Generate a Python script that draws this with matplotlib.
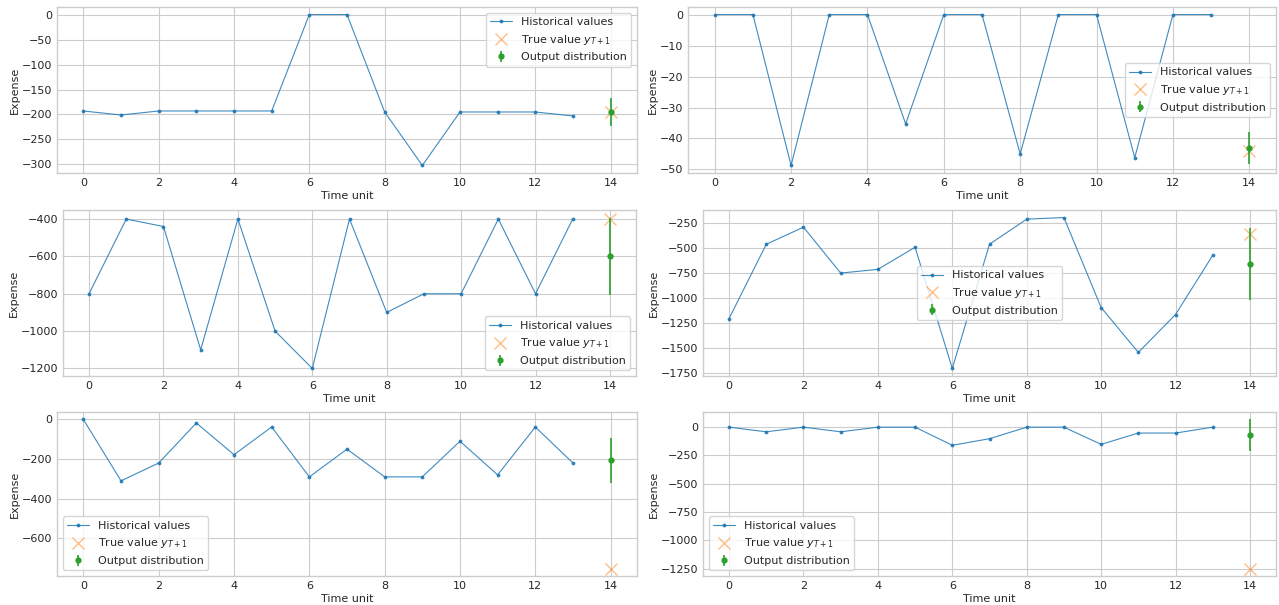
import numpy as np
import matplotlib
matplotlib.use("Agg")
import matplotlib.pyplot as plt

plt.style.use("seaborn-v0_8-whitegrid")
plt.rcParams.update({
    "font.family": ["DejaVu Sans"],
    "font.size": 8,
    "axes.labelsize": 8,
    "xtick.labelsize": 8,
    "ytick.labelsize": 8,
    "legend.fontsize": 8,
    "legend.frameon": True,
    "legend.framealpha": 0.8,
    "legend.edgecolor": "0.8",
})

time_steps = list(range(14))
forecast_step = 14

hist_1 = [-193, -201, -193, -193, -193, -193, 0, 0, -195, -302, -195, -195, -195, -203]
true_1 = -196
mean_1 = -196
err_1 = 28

hist_2 = [0, 0, -48.7, 0, 0, -35.3, 0, 0, -45, 0, 0, -46.2, 0, 0]
true_2 = -44
mean_2 = -43
err_2 = 5.2

hist_3 = [-800, -400, -440, -1100, -400, -1000, -1200, -400, -900, -800, -800, -400, -800, -400]
true_3 = -400
mean_3 = -600
err_3 = 208

hist_4 = [-1203, -463, -293, -750, -713, -493, -1700, -463, -213, -197, -1093, -1540, -1163, -573]
true_4 = -360
mean_4 = -657
err_4 = 357

hist_5 = [0, -310, -220, -18, -178, -38, -290, -150, -290, -290, -110, -280, -38, -220]
true_5 = -753
mean_5 = -207
err_5 = 113

hist_6 = [0, -41, 0, -41, 0, 0, -160, -102, 0, 0, -152, -52, -52, 0]
true_6 = -1248
mean_6 = -70
err_6 = 138

panels = [
    (hist_1, true_1, mean_1, err_1, "upper right"),
    (hist_2, true_2, mean_2, err_2, "center right"),
    (hist_3, true_3, mean_3, err_3, "lower right"),
    (hist_4, true_4, mean_4, err_4, "center"),
    (hist_5, true_5, mean_5, err_5, "lower left"),
    (hist_6, true_6, mean_6, err_6, "lower left"),
]

W, H = 1279, 605
# pixel boxes (left, top, right, bottom) for each panel
boxes = [
    (57, 7, 637, 173), (688, 7, 1276, 173),
    (63, 210, 636, 376), (703, 210, 1276, 376),
    (57, 412, 637, 576), (703, 412, 1276, 576),
]

fig = plt.figure(figsize=(W / 100, H / 100), dpi=100)
for box, (hist, tv, mu, er, loc) in zip(boxes, panels):
    l, t, r, b = box
    ax = fig.add_axes([l / W, 1 - b / H, (r - l) / W, (b - t) / H])
    ax.plot(time_steps, hist, "-", marker=".", color="C0", linewidth=0.8,
            markersize=3.5, alpha=0.85, label="Historical values")
    ax.plot([forecast_step], [tv], "x", color="C1", markersize=9, alpha=0.5,
            markeredgewidth=1.0, label="True value $y_{T+1}$")
    ax.errorbar([forecast_step], [mu], yerr=[er], fmt="o", color="C2",
                markersize=3.5, elinewidth=1.2, label="Output distribution")
    ax.set_xlabel("Time unit", labelpad=2)
    ax.set_ylabel("Expense", labelpad=1.5)
    ax.set_xticks(range(0, 15, 2))
    ax.legend(loc=loc)

fig.savefig("out.png", dpi=100)
